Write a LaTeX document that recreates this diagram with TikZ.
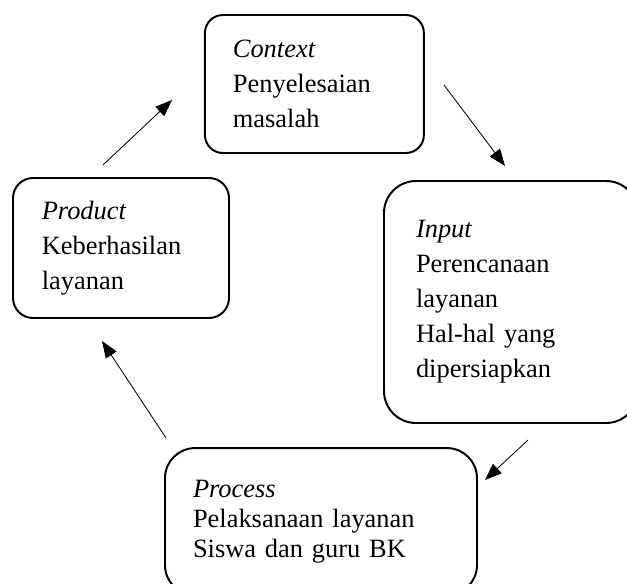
\documentclass[tikz,border=0pt]{standalone}
\usepackage{fontspec}
\setmainfont{Liberation Serif}
\usepackage{tikz}
\usetikzlibrary{arrows.meta}
\tikzstyle{stage} = [rectangle, draw=black, line width=1.4pt, align=left, font=\fontsize{18.8}{24.9}\selectfont, inner ysep=0pt]
\tikzstyle{arrow} = [line width=0.6pt, -{Triangle[length=0.42cm, width=0.32cm]}]

\begin{document}
\begin{tikzpicture}
\useasboundingbox (0,0) rectangle (15.675,-14.575);
\clip (0,0) rectangle (15.675,-14.575);

% Nodes
\node (context) [stage, rounded corners=0.45cm, minimum width=5.475cm, minimum height=3.45cm, inner xsep=0.7cm, text width=4.075cm] at (7.86,-2.1) {\textit{Context}\\Penyelesaian\\masalah};
\node (input) [stage, rounded corners=0.8cm, minimum width=6.35cm, minimum height=6.05cm, inner xsep=0.8cm, text width=4.75cm] at (12.775,-7.55) {\textit{Input}\\Perencanaan\\layanan\\Hal-hal yang\\dipersiapkan};
\node (process) [stage, rounded corners=0.75cm, minimum width=7.8cm, minimum height=3.675cm, inner xsep=0.7cm, text width=6.4cm, font=\fontsize{18.8}{21.5}\selectfont] at (8.025,-13.04) {\textit{Process}\\Pelaksanaan layanan\\Siswa dan guru BK};
\node (product) [stage, rounded corners=0.5cm, minimum width=5.4cm, minimum height=3.5cm, inner xsep=0.72cm, text width=3.96cm] at (3.025,-6.2) {\textit{Product}\\Keberhasilan\\layanan};

% Arrow ends
\coordinate (productout) at (2.575,-4.125);
\coordinate (contextin) at (4.3,-2.5);
\coordinate (contextout) at (11.1,-2.125);
\coordinate (inputin) at (12.625,-4.15);
\coordinate (inputout) at (13.2,-11.0);
\coordinate (processin) at (12.125,-12.0);
\coordinate (processout) at (4.15,-10.95);
\coordinate (productin) at (2.55,-8.525);

% Arrows
\draw [arrow] (productout) -- (contextin);
\draw [arrow] (contextout) -- (inputin);
\draw [arrow] (inputout) -- (processin);
\draw [arrow] (processout) -- (productin);

\end{tikzpicture}
\end{document}
